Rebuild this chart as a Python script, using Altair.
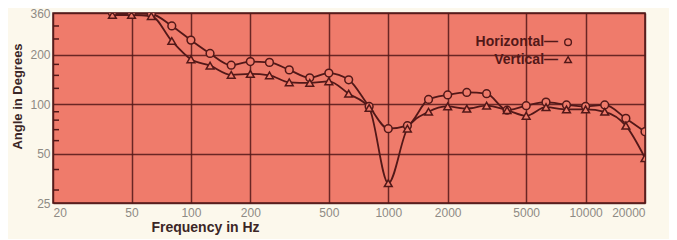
import altair as alt
import pandas as pd

freq = [40, 50, 63, 80, 100, 125, 160, 200, 250, 315, 400, 500, 630, 800,
        1000, 1250, 1600, 2000, 2500, 3150, 4000, 5000, 6300, 8000, 10000,
        12500, 16000, 20000]
horizontal = [360, 360, 355, 300, 246, 204, 173, 182, 180, 162, 145, 155, 141, 97,
              71, 74, 107, 114, 118, 116, 92, 98, 103, 99, 97,
              99, 82, 68]
vertical = [350, 350, 345, 243, 188, 172, 151, 153, 150, 136, 135, 138, 116, 95,
            33, 71, 90, 97, 94, 98, 92, 85, 96, 93, 93,
            90, 74, 47]

x_ticks = [20, 50, 100, 200, 500, 1000, 2000, 5000, 10000, 20000]
y_ticks = [25, 50, 100, 200, 360]
y_minor = [30, 40, 60, 70, 80, 90, 125, 150, 175, 250, 300]

legend_labels = ["Horizontal\u2014", "Vertical\u2014"]
legend_series = ["Horizontal", "Vertical"]
legend_freq = [8150, 8150]
legend_angle = [239, 187]

rows = []
for f, h, v in zip(freq, horizontal, vertical):
    rows.append({"freq": f, "angle": h, "series": "Horizontal"})
    rows.append({"freq": f, "angle": v, "series": "Vertical"})
df = pd.DataFrame(rows)

leg_df = pd.DataFrame({"label": legend_labels, "series": legend_series,
                       "freq": legend_freq, "angle": legend_angle})
minor_df = pd.DataFrame({"angle": y_minor})

DARK = "#521818"
SALMON = "#EF7B6B"
GRAY = "#8e8a84"
FONT = "Liberation Sans"

xs = alt.Scale(type="log", domain=[20, 20000], nice=False)
ys = alt.Scale(type="log", domain=[25, 360], nice=False)
shape_scale = alt.Scale(domain=["Horizontal", "Vertical"], range=["circle", "triangle-up"])

x_axis = alt.Axis(values=x_ticks, format="d", title="Frequency in Hz", ticks=False,
                  domain=False, labelPadding=4, labelColor=GRAY, labelFontSize=12,
                  labelFont=FONT, titleFont=FONT, titleFontSize=14, titleFontWeight="bold",
                  titleColor="#3b2626", titleX=152, titleY=17, titleBaseline="top",
                  titleAlign="center", gridColor=DARK, gridWidth=1.5, gridOpacity=0.85)
y_axis = alt.Axis(values=y_ticks, format="d", title="Angle in Degrees", ticks=False,
                  domain=False, labelPadding=3, labelColor=GRAY, labelFontSize=12,
                  labelFont=FONT, titleFont=FONT, titleFontSize=13, titleFontWeight="bold",
                  titleColor="#3b2626", titleX=-36, titleY=83, titleBaseline="middle",
                  titleAlign="center", titleAngle=270,
                  gridColor=DARK, gridWidth=1.5, gridOpacity=0.85)

X = alt.X("freq:Q", scale=xs, axis=x_axis)
Y = alt.Y("angle:Q", scale=ys, axis=y_axis)

base = alt.Chart(df).encode(x=X, y=Y, detail="series:N")

lines = base.mark_line(color=DARK, strokeWidth=1.8, interpolate="monotone", clip=True)
points = base.mark_point(filled=False, fill=SALMON, fillOpacity=1, stroke=DARK,
                         strokeWidth=1.5, size=60, opacity=1, clip=True).encode(
    shape=alt.Shape("series:N", scale=shape_scale, legend=None)
)

minor = alt.Chart(minor_df).mark_rule(color=DARK, strokeWidth=1.5).encode(
    y=Y,
    x=alt.value(0),
    x2=alt.value(6),
)

leg_text = alt.Chart(leg_df).mark_text(align="right", baseline="middle", dx=-10,
                                       font=FONT, fontSize=14, fontWeight="bold",
                                       color=DARK).encode(
    x=X, y=Y, text="label:N",
)
leg_sym = alt.Chart(leg_df).mark_point(filled=False, fill=SALMON, fillOpacity=1,
                                       stroke=DARK, strokeWidth=1.4, size=45,
                                       opacity=1).encode(
    x=X, y=Y,
    shape=alt.Shape("series:N", scale=shape_scale, legend=None),
)

chart = alt.layer(lines, points, minor, leg_text, leg_sym).properties(
    width=592, height=190,
    background="#FCF8EC",
    autosize=alt.AutoSizeParams(type="none"),
    padding={"left": 45, "top": 5, "right": 24, "bottom": 36},
).configure_view(
    fill=SALMON, stroke=DARK, strokeWidth=1.5
)

chart.save("out.html", embed_options={"renderer": "svg", "actions": False})
